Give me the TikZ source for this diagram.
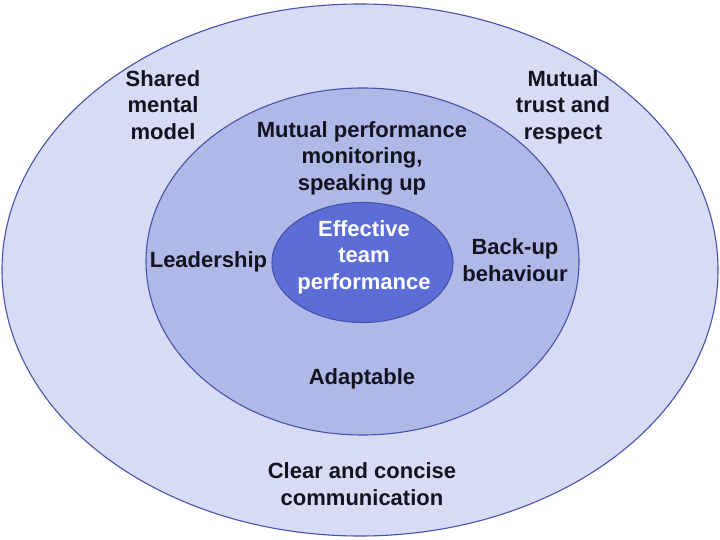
\documentclass[tikz,border=0pt]{standalone}
\usepackage{fontspec}
\setmainfont{Liberation Sans}
\usetikzlibrary{shapes.geometric}
\definecolor{ringline}{RGB}{72,82,170}
\definecolor{outerfill}{RGB}{216,219,245}
\definecolor{midfill}{RGB}{176,184,232}
\definecolor{corefill}{RGB}{92,110,214}
\definecolor{labtext}{RGB}{20,20,32}
\begin{document}
\begin{tikzpicture}[
 x=1pt,y=1pt,
 ring/.style={ellipse,draw=ringline,line width=1.1pt,inner sep=0pt},
 lab/.style={align=center,inner sep=0pt,text=labtext,font=\fontsize{22}{26.5}\selectfont\bfseries},
 corelab/.style={lab,text=white}]
 \useasboundingbox (0,0) rectangle (720,539);
 % three nested rings
 \node[ring,fill=outerfill,minimum width=716,minimum height=532] (outer) at (360,269){};
 \node[ring,fill=midfill,minimum width=433,minimum height=347] (mid) at (362.5,277.5){};
 \node[ring,fill=corefill,minimum width=181,minimum height=120] (core) at (362.5,276.5){};
 % outer ring labels
 \node[lab] (shared) at (163,434){Shared\\mental\\model};
 \node[lab] (trust) at (563,432){Mutual\\trust and\\respect};
 \node[lab] (comm) at (362,55){Clear and concise\\communication};
 % middle ring labels
 \node[lab] (monitor) at (362,381){Mutual performance\\monitoring,\\speaking up};
 \node[lab] (lead) at (208.5,277){Leadership};
 \node[lab] (backup) at (515,279){Back-up\\behaviour};
 \node[lab] (adapt) at (362,160){Adaptable};
 % centre
 \node[corelab] (team) at (364,282){Effective\\team\\performance};
\end{tikzpicture}
\end{document}
